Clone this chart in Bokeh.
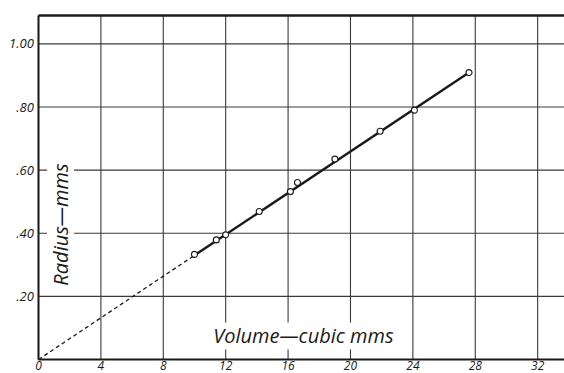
from bokeh.plotting import figure
from bokeh.models import Label, Range1d
from bokeh.embed import file_html
from bokeh.resources import INLINE

# data
volume = [10.0, 11.4, 12.0, 14.15, 16.15, 16.6, 19.0, 21.9, 24.1, 27.6]
radius = [0.333, 0.379, 0.395, 0.469, 0.532, 0.561, 0.635, 0.723, 0.790, 0.909]
dash_x = [0.0, 10.0]
dash_y = [0.0, 0.330]
solid_x = [10.0, 27.6]
solid_y = [0.330, 0.909]
x_ticks = [0, 4, 8, 12, 16, 20, 24, 28, 32]
x_tick_labels = ["0", "4", "8", "12", "16", "20", "24", "28", "32"]
y_ticks = [0.2, 0.4, 0.6, 0.8, 1.0]
y_tick_labels = [".20", ".40", ".60", ".80", "1.00"]
x_title = "Volume\u2014cubic  mms"
y_title = "Radius\u2014mms"

# plotting area extent (paper edge on the right is cut)
X_MAX = 33.72
Y_MAX = 1.09

FONT = "Open Sans"
INK = "#1a1a1a"
GRID = "#3a3a3a"

p = figure(width=564, height=373, output_backend="svg", toolbar_location=None,
           x_range=Range1d(-2.436, X_MAX), y_range=Range1d(-0.0444, 1.1375),
           min_border_left=0, min_border_right=0, min_border_top=0, min_border_bottom=0)
p.outline_line_color = None
p.background_fill_color = "white"
p.xaxis.visible = False
p.yaxis.visible = False
p.xgrid.visible = False
p.ygrid.visible = False

# grid lines at the tick values
p.segment(x0=x_ticks, y0=[0] * len(x_ticks), x1=x_ticks, y1=[Y_MAX] * len(x_ticks),
          line_color=GRID, line_width=1.1)
p.segment(x0=[0] * len(y_ticks), y0=y_ticks, x1=[X_MAX] * len(y_ticks), y1=y_ticks,
          line_color=GRID, line_width=1.1)

# frame borders: left, bottom, top
p.segment(x0=[0, 0, 0], y0=[0, 0, Y_MAX], x1=[0, X_MAX, X_MAX], y1=[Y_MAX, 0, Y_MAX],
          line_color=INK, line_width=[2.0, 2.2, 2.5])

# fitted line and observations
p.line(dash_x, dash_y, line_color=INK, line_width=1.3, line_dash="4 3")
p.line(solid_x, solid_y, line_color=INK, line_width=2.4)
p.scatter(volume, radius, size=6, marker="circle", fill_color="white",
          line_color=INK, line_width=1.1)

# tick labels
for t, s in zip(x_ticks, x_tick_labels):
    p.add_layout(Label(x=t, y=-0.019, text=s,
                       text_font=FONT, text_font_style="italic", text_font_size="12px",
                       text_color=INK, text_align="center", text_baseline="middle"))
for t, s in zip(y_ticks, y_tick_labels):
    p.add_layout(Label(x=-0.3, y=t, text=s,
                       text_font=FONT, text_font_style="italic", text_font_size="13px",
                       text_color=INK, text_align="right", text_baseline="middle"))

# axis titles inside the frame with white boxes
p.add_layout(Label(x=11.2, y=0.032, text=x_title,
                   text_font=FONT, text_font_style="italic", text_font_size="20px",
                   text_color=INK, background_fill_color="white",
                   text_baseline="bottom"))
p.add_layout(Label(x=1.41, y=0.234, text=y_title,
                   angle=1.5708, text_font=FONT, text_font_style="italic",
                   text_font_size="20px", text_color=INK,
                   background_fill_color="white", text_baseline="middle"))

open("out.html", "w").write(file_html(p, INLINE))
